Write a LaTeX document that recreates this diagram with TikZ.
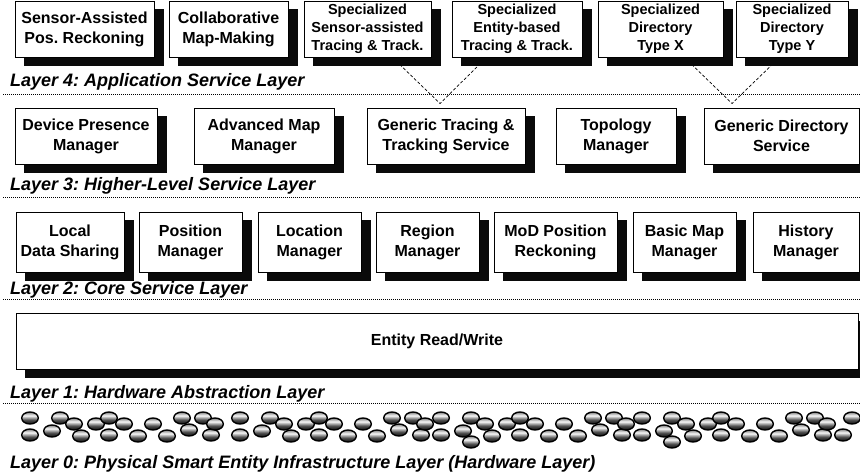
\documentclass[tikz,border=0pt]{standalone}
\usepackage{fontspec}
\setmainfont{Liberation Sans}
\usetikzlibrary{calc,backgrounds}
\pgfdeclareverticalshading{beadshade}{100bp}{color(0bp)=(black!95); color(25bp)=(black!95); color(42bp)=(black!70); color(60bp)=(black!3); color(75bp)=(black!50); color(100bp)=(black!50)}
\begin{document}
\frenchspacing
\begin{tikzpicture}[x=1pt,y=-1pt,
  box/.style={draw=black, line width=1pt, fill=white, align=center, inner sep=0pt,
     font=\bfseries\fontsize{16}{20}\selectfont},
  sbox/.style={box, font=\bfseries\fontsize{14.5}{18}\selectfont},
  shadowfill/.style={fill=black!96},
  layerlabel/.style={anchor=base west, inner sep=0pt, font=\bfseries\itshape\fontsize{18}{22}\selectfont},
  sepline/.style={line width=1pt, dash pattern=on 1pt off 1pt},
  conn/.style={line width=0.7pt, dash pattern=on 3pt off 2pt},
  bead/.style={draw=black, line width=1.4pt, shading=beadshade}
]
\begin{scope}[on background layer]
\fill[white] (0,0) rectangle (860,474);
\end{scope}
\useasboundingbox (0,0) rectangle (860,474);

% Layer 4
\node[box, minimum width=139pt, minimum height=56pt] (b1) at (84.5,29) {Sensor-Assisted\\Pos. Reckoning};
\node[box, minimum width=119pt, minimum height=56pt] (b2) at (228.5,29) {Collaborative\\Map-Making};
\node[sbox, minimum width=127pt, minimum height=56pt] (b3) at (367.5,29) {Specialized\\Sensor-assisted\\Tracing \& Track.};
\node[sbox, minimum width=130pt, minimum height=56pt] (b4) at (517,29) {Specialized\\Entity-based\\Tracing \& Track.};
\node[sbox, minimum width=125pt, minimum height=56pt] (b5) at (660.5,29) {Specialized\\Directory\\Type X};
\node[sbox, minimum width=112pt, minimum height=56pt] (b6) at (792,29) {Specialized\\Directory\\Type Y};
\node[layerlabel] (l4) at (10,86) {Layer 4: Application Service Layer};
\coordinate (s4a) at (3,94); \coordinate (s4b) at (860,94);
\draw[sepline] (s4a) -- (s4b);

% Layer 3
\node[box, minimum width=142pt, minimum height=56pt] (c1) at (86,136) {Device Presence\\Manager};
\node[box, minimum width=140pt, minimum height=56pt] (c2) at (264,136) {Advanced Map\\Manager};
\node[box, minimum width=158pt, minimum height=56pt] (c3) at (446,136) {Generic Tracing \&\\Tracking Service};
\node[box, minimum width=120pt, minimum height=56pt] (c4) at (616,136) {Topology\\Manager};
\node[box, minimum width=155pt, minimum height=56pt] (c5) at (781.5,136) {Generic Directory\\Service};
\node[layerlabel] (l3) at (10,190) {Layer 3: Higher-Level Service Layer};
\coordinate (s3a) at (3,197); \coordinate (s3b) at (860,197);
\draw[sepline] (s3a) -- (s3b);

% Layer 2
\node[box, minimum width=108pt, minimum height=60pt] (d1) at (70,242) {Local\\Data Sharing};
\node[box, minimum width=103pt, minimum height=60pt] (d2) at (190.5,242) {Position\\Manager};
\node[box, minimum width=103pt, minimum height=60pt] (d3) at (309.5,242) {Location\\Manager};
\node[box, minimum width=103pt, minimum height=60pt] (d4) at (427.5,242) {Region\\Manager};
\node[box, minimum width=123pt, minimum height=60pt] (d5) at (555.5,242) {MoD Position\\Reckoning};
\node[box, minimum width=103pt, minimum height=60pt] (d6) at (684.5,242) {Basic Map\\Manager};
\node[box, minimum width=106pt, minimum height=60pt] (d7) at (806,242) {History\\Manager};
\node[layerlabel] (l2) at (10,294) {Layer 2: Core Service Layer};
\coordinate (s2a) at (3,299); \coordinate (s2b) at (860,299);
\draw[sepline] (s2a) -- (s2b);

% Layer 1
\node[box, minimum width=842pt, minimum height=56pt] (e1) at (437,341) {Entity Read/Write};
\node[layerlabel] (l1) at (10,398) {Layer 1: Hardware Abstraction Layer};
\coordinate (s1a) at (3,403); \coordinate (s1b) at (860,403);
\draw[sepline] (s1a) -- (s1b);

% connectors and shadows (behind the boxes)
\coordinate (v1) at ($(c3.north)+(-6,-4)$);
\coordinate (v2) at ($(c5.north)+(-49.5,-4)$);
\begin{scope}[on background layer]
\draw[conn] ($(b3.south west)+(89,0)$) -- (v1) -- ($(b4.south west)+(35,0)$);
\draw[conn] ($(b5.south west)+(87,0)$) -- (v2) -- ($(b6.south west)+(44,0)$);
\foreach \n in {b1,b2,b3,b4,b5,b6,c1,c2,c3,c4,c5,d1,d2,d3,d4,d5,d6,d7,e1}{
  \fill[shadowfill] ($(\n.north west)+(9,8)$) rectangle ($(\n.south east)+(9,8)$);
}
\end{scope}

% Layer 0 beads
\foreach \bx in {30,240,441,642}{
  \foreach \dx/\by in {0/418,0/435,30/418,22/431,44/424,51/436,66/424,79/418,94/424,79/435,108/436,123/424,137/436,152/418,159/430,173/418,181/435,185/424}{
    \shade[bead] (\bx+\dx,\by) ellipse [x radius=8.3, y radius=6];
  }
}
\foreach \px/\py in {471/442,672/442,852/418,843/435}{
  \shade[bead] (\px,\py) ellipse [x radius=8.3, y radius=6];
}
\node[layerlabel] (l0) at (10,468) {Layer 0: Physical Smart Entity Infrastructure Layer (Hardware Layer)};
\end{tikzpicture}
\end{document}
